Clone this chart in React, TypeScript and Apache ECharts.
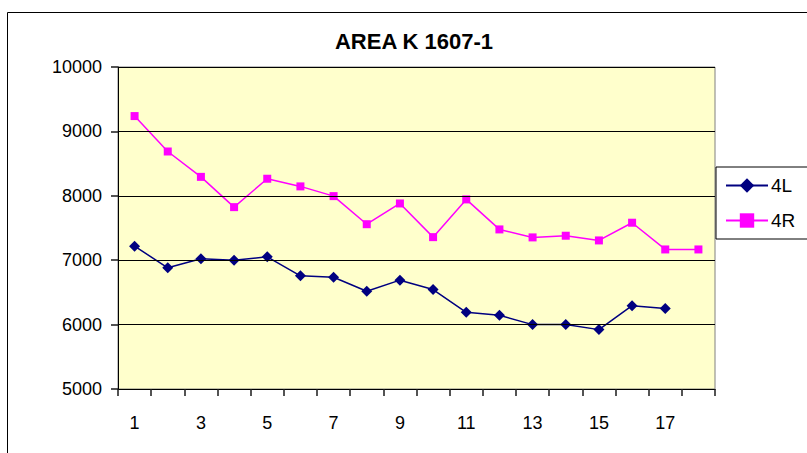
import React, { useEffect, useRef } from "react";
import * as echarts from "echarts";

const categories = ["1","2","3","4","5","6","7","8","9","10","11","12","13","14","15","16","17","18"];
const series4L = [7218, 6882, 7022, 7000, 7053, 6757, 6735, 6517, 6690, 6544, 6190, 6144, 6000, 6000, 5922, 6294, 6250];
const series4R = [9238, 8688, 8294, 7824, 8265, 8146, 7995, 7559, 7881, 7358, 7944, 7478, 7354, 7380, 7307, 7582, 7167, 7167];
const titleText = "AREA K 1607-1";

export default function App() {
  const ref = useRef<HTMLDivElement>(null);
  useEffect(() => {
    if (!ref.current) return;
    const chart = echarts.init(ref.current, null, { renderer: "svg" });
    const font = "'Liberation Sans', Arial, sans-serif";
    chart.setOption({
      animation: false,
      backgroundColor: "#ffffff",
      title: {
        text: titleText,
        left: 409,
        textAlign: "center",
        top: 25,
        textStyle: { fontFamily: font, fontSize: 22, fontWeight: "bold", color: "#000" },
      },
      graphic: [
        {
          type: "rect",
          shape: { x: 7.5, y: 12.5, width: 850, height: 500 },
          style: { fill: "none", stroke: "#000", lineWidth: 1 },
          silent: true,
          z: -1,
        },
      ],
      legend: {
        orient: "vertical",
        left: 716,
        top: 167,
        backgroundColor: "#fff",
        borderColor: "#000",
        borderWidth: 1,
        padding: [9, 40, 9, 9],
        itemGap: 16,
        itemWidth: 42,
        itemHeight: 18,
        textStyle: { fontFamily: font, fontSize: 19, color: "#000", padding: [0, 0, 0, -2] },
        data: ["4L", "4R"],
      },
      grid: {
        left: 118,
        right: 92,
        top: 67,
        bottom: 64,
        show: true,
        backgroundColor: "#FFFFCC",
        borderColor: "#808080",
        borderWidth: 1,
        z: 0,
      },
      xAxis: {
        type: "category",
        data: categories,
        boundaryGap: true,
        z: 10,
        axisLine: { show: true, lineStyle: { color: "#000", width: 1 } },
        axisTick: { show: true, inside: false, alignWithLabel: false, interval: 0, length: 7, lineStyle: { color: "#1a1a1a", width: 1.5 } },
        axisLabel: { interval: 1, margin: 25, fontFamily: font, fontSize: 18, color: "#000" },
        splitLine: { show: false },
      },
      yAxis: {
        type: "value",
        min: 5000,
        max: 10000,
        interval: 1000,
        z: 10,
        axisLine: { show: true, lineStyle: { color: "#000", width: 1 } },
        axisTick: { show: true, inside: false, length: 7, lineStyle: { color: "#1a1a1a", width: 1.5 } },
        axisLabel: { margin: 16, fontFamily: font, fontSize: 18, color: "#000", formatter: (v: number) => String(v) },
        splitLine: { show: true, lineStyle: { color: "#000", width: 1 } },
      },
      series: [
        {
          name: "4L",
          type: "line",
          data: series4L,
          symbol: "diamond",
          symbolSize: 11,
          itemStyle: { color: "#000080" },
          lineStyle: { color: "#000080", width: 1.5 },
        },
        {
          name: "4R",
          type: "line",
          data: series4R,
          symbol: "rect",
          symbolSize: 8,
          itemStyle: { color: "#FF00FF" },
          lineStyle: { color: "#FF00FF", width: 1.5 },
        },
      ],
    });
    return () => chart.dispose();
  }, []);
  return <div ref={ref} style={{ position: "fixed", left: 0, top: 0, width: 807, height: 453 }} />;
}
